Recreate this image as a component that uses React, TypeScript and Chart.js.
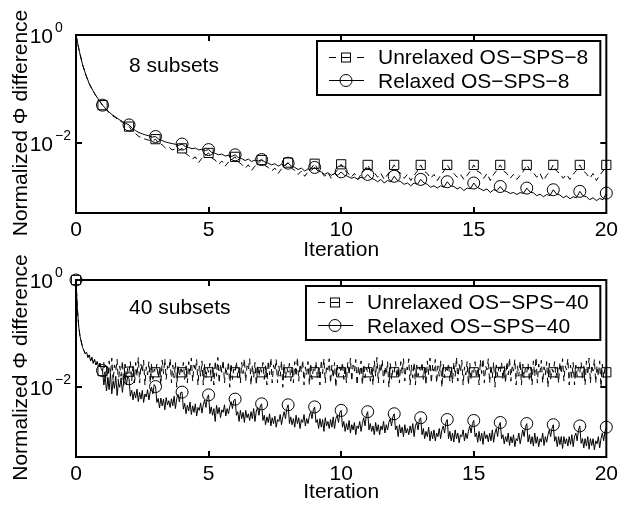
import { useEffect, useRef } from 'react';
import { Chart, registerables } from 'chart.js';
Chart.register(...registerables);

const FONT = "'Liberation Sans', Arial, Helvetica, sans-serif";

// x-axis ticks (iterations)
const xTickStep = 5;
const xMin = 0;
const xMax = 20;
// y-axis (log) ticks
const yMin = 0.0005;
const yMax = 1;
const yTickValues = [1, 0.01];
const yTickExponents = ['0', '\u22122'];

// sample points per iteration in each panel
const perIterTop = 8;
const perIterBottom = 20;

const topLabels = ['Unrelaxed OS\u2212SPS\u22128', 'Relaxed OS\u2212SPS\u22128'];
const bottomLabels = ['Unrelaxed OS\u2212SPS\u221240', 'Relaxed OS\u2212SPS\u221240'];
const topNote = '8 subsets';
const bottomNote = '40 subsets';

// ---- 8 subsets: normalized difference per sub-iteration ----
const topUnrelaxed = [
  1, .5, .28, .18, .125, .095, .075, .061,
  .05, .042, .036, .032, .029, .026, .024, .022,
  .020, .0165, .0148, .0130, .0124, .0116, .0112, .0108,
  .0117, .0098, .0092, .0080, .0083, .0074, .0077, .0072,
  .0079, .0064, .0058, .0050, .0055, .0043, .0052, .0058,
  .0065, .0052, .0048, .0040, .0046, .0037, .0044, .0049,
  .0055, .0044, .0040, .0034, .0039, .0031, .0037, .0042,
  .0048, .0038, .0035, .0030, .0034, .0027, .0033, .0038,
  .0043, .0034, .0031, .0026, .0030, .0024, .0029, .0034,
  .0041, .0032, .0029, .0024, .0028, .0022, .0027, .0032,
  .0040, .0031, .0028, .0023, .0027, .0021, .0026, .0031,
  .0039, .0030, .0028, .0023, .0027, .0021, .0026, .0031,
  .0039, .0030, .0027, .0022, .0026, .0020, .0025, .0030,
  .0039, .0030, .0027, .0022, .0026, .0020, .0025, .0030,
  .0039, .0031, .0027, .0023, .0026, .0021, .0025, .0030,
  .0039, .0030, .0028, .0022, .0027, .0020, .0026, .0031,
  .0039, .0030, .0027, .0022, .0026, .0021, .0025, .0030,
  .0039, .0031, .0028, .0023, .0027, .0020, .0025, .0030,
  .0039, .0030, .0027, .0022, .0026, .0021, .0026, .0031,
  .0039, .0030, .0027, .0022, .0027, .0020, .0025, .0030,
  .0039,
];
const topRelaxed = [
  1, .5, .28, .18, .125, .095, .075, .061,
  .05, .043, .037, .033, .030, .027, .025, .023,
  .0215, .0185, .0168, .0155, .0147, .0140, .0135, .0128,
  .0131, .0116, .0110, .0104, .0100, .0097, .0094, .0090,
  .0095, .0085, .0082, .0078, .0080, .0074, .0076, .0072,
  .0075, .0066, .0064, .0060, .0062, .0057, .0059, .0056,
  .0060, .0053, .0051, .0047, .0050, .0045, .0048, .0046,
  .0049, .0044, .0042, .0039, .0041, .0037, .0040, .0038,
  .0042, .0037, .0035, .0032, .0034, .0030, .0033, .0031,
  .0035, .0030, .0029, .0026, .0028, .0025, .0027, .0025,
  .0029, .0025, .0024, .0022, .0023, .0021, .0023, .0022,
  .0026, .0022, .0021, .0019, .0021, .0018, .0020, .0019,
  .0024, .0020, .0019, .0017, .0018, .0016, .0018, .0017,
  .0021, .0018, .0017, .0015, .0016, .00145, .0016, .0015,
  .0019, .0016, .00155, .0014, .0015, .0013, .00145, .0014,
  .0018, .0015, .0014, .0013, .0014, .0012, .00135, .0013,
  .00155, .0013, .00125, .00115, .0012, .0011, .0012, .00115,
  .00145, .00122, .00118, .00105, .00112, .0010, .0011, .00105,
  .00135, .00112, .00108, .00096, .00104, .00092, .0010, .00096,
  .00126, .00104, .0010, .00088, .00096, .00085, .00093, .00088,
  .00117,
];

// ---- 40 subsets ----
const bottomUnrelaxed = [
  1, .3, .14, .09, .07, .055, .048, .042, .045, .036, .040, .031, .036, .028, .033, .026, .030, .024, .028, .022,
  .0200, .029, .014, .024, .011, .031, .017, .035, .013, .026, .020, .033, .012, .025, .016, .031, .011, .027, .015, .023,
  .0195, .030, .013, .025, .012, .029, .016, .036, .012, .027, .019, .032, .011, .024, .017, .030, .012, .028, .014, .022,
  .0190, .027, .015, .023, .011, .032, .018, .034, .014, .025, .021, .034, .012, .026, .015, .029, .010, .026, .016, .024,
  .0190, .029, .014, .025, .012, .030, .017, .035, .013, .026, .020, .033, .011, .025, .016, .031, .011, .027, .015, .023,
  .0190, .028, .013, .024, .011, .031, .016, .036, .012, .027, .019, .032, .012, .024, .017, .030, .010, .028, .014, .022,
  .0190, .030, .015, .023, .012, .029, .018, .034, .013, .025, .021, .034, .011, .026, .015, .029, .011, .026, .016, .024,
  .0190, .029, .014, .025, .011, .031, .017, .035, .012, .026, .020, .033, .012, .025, .016, .031, .010, .027, .015, .023,
  .0190, .028, .013, .024, .012, .030, .016, .036, .013, .027, .019, .032, .011, .024, .017, .030, .011, .028, .014, .022,
  .0190, .030, .015, .023, .011, .032, .018, .034, .012, .025, .021, .034, .012, .026, .015, .029, .010, .026, .016, .024,
  .0190, .029, .014, .025, .012, .029, .017, .035, .013, .026, .020, .033, .011, .025, .016, .031, .011, .027, .015, .023,
  .0190, .028, .013, .024, .011, .031, .016, .036, .012, .027, .019, .032, .012, .024, .017, .030, .010, .028, .014, .022,
  .0190, .030, .015, .023, .012, .030, .018, .034, .013, .025, .021, .034, .011, .026, .015, .029, .011, .026, .016, .024,
  .0190, .029, .014, .025, .011, .031, .017, .035, .012, .026, .020, .033, .012, .025, .016, .031, .010, .027, .015, .023,
  .0190, .028, .013, .024, .012, .029, .016, .036, .013, .027, .019, .032, .011, .024, .017, .030, .011, .028, .014, .022,
  .0190, .030, .015, .023, .011, .032, .018, .034, .012, .025, .021, .034, .012, .026, .015, .029, .010, .026, .016, .024,
  .0190, .029, .014, .025, .012, .030, .017, .035, .013, .026, .020, .033, .011, .025, .016, .031, .011, .027, .015, .023,
  .0190, .028, .013, .024, .011, .031, .016, .036, .012, .027, .019, .032, .012, .024, .017, .030, .010, .028, .014, .022,
  .0190, .030, .015, .023, .012, .029, .018, .034, .013, .025, .021, .034, .011, .026, .015, .029, .011, .026, .016, .024,
  .0190, .029, .014, .025, .011, .031, .017, .035, .012, .026, .020, .033, .012, .025, .016, .031, .010, .027, .015, .023,
  .019,
];
const bottomRelaxed = [
  1, .3, .14, .09, .07, .055, .048, .042, .045, .036, .040, .031, .036, .028, .033, .026, .030, .024, .028, .022,
  .0205, .011, .016, .0085, .014, .009, .018, .0075, .013, .0095, .016, .007, .012, .010, .015, .008, .013, .017, .011, .016,
  .0144, .0068, .0088, .0058, .0082, .0063, .0092, .0054, .0080, .0060, .0087, .0052, .0075, .0066, .0090, .0058, .0083, .0100, .0075, .0112,
  .0103, .0052, .0062, .0041, .0063, .0045, .0060, .0038, .0064, .0047, .0056, .0042, .0061, .0045, .0068, .0040, .0062, .0074, .0053, .0080,
  .0081, .0039, .0050, .0032, .0046, .0036, .0053, .0031, .0045, .0034, .0049, .0029, .0042, .0037, .0051, .0033, .0047, .0058, .0042, .0064,
  .0072, .0032, .0043, .0030, .0040, .0023, .0046, .0032, .0042, .0027, .0038, .0034, .0047, .0029, .0040, .0032, .0044, .0054, .0040, .0057,
  .0060, .0030, .0035, .0023, .0037, .0026, .0034, .0022, .0037, .0027, .0032, .0024, .0035, .0026, .0040, .0023, .0036, .0042, .0030, .0045,
  .0049, .0024, .0030, .0020, .0028, .0022, .0032, .0019, .0027, .0021, .0029, .0018, .0025, .0023, .0031, .0020, .0028, .0035, .0026, .0040,
  .0047, .0021, .0028, .0020, .0026, .0018, .0030, .0021, .0027, .0017, .0025, .0022, .0031, .0019, .0026, .0021, .0029, .0035, .0026, .0038,
  .0043, .0022, .0025, .0017, .0026, .0018, .0025, .0015, .0027, .0019, .0023, .0017, .0025, .0018, .0028, .0017, .0026, .0030, .0022, .0034,
  .0037, .0018, .0023, .0015, .0021, .0016, .0024, .0014, .0020, .0016, .0022, .0013, .0019, .0017, .0023, .0015, .0021, .0027, .0019, .0030,
  .0035, .0016, .0021, .0015, .0019, .0013, .0022, .0015, .0020, .0013, .0019, .0016, .0023, .0014, .0020, .0016, .0022, .0026, .0019, .0028,
  .0032, .0016, .0019, .0012, .0020, .0014, .0018, .0012, .0020, .0014, .0017, .0013, .0019, .0014, .0021, .0012, .0019, .0022, .0016, .0025,
  .0027, .0013, .0017, .0011, .0015, .0012, .0018, .0010, .0015, .0011, .0016, .0010, .0014, .0012, .0017, .0011, .0016, .0019, .0014, .0022,
  .0025, .0011, .0015, .0010, .0014, .00095, .0016, .0011, .0014, .00092, .0013, .0012, .0016, .0010, .0014, .0011, .0015, .0019, .0014, .0021,
  .0024, .0012, .0014, .00094, .0015, .0010, .0014, .00086, .0015, .0011, .0013, .00096, .0014, .0010, .0016, .00094, .0014, .0017, .0012, .0019,
  .0022, .0011, .0013, .00088, .0012, .00096, .0014, .00082, .0012, .00092, .0013, .00078, .0011, .0010, .0014, .00088, .0012, .0016, .0012, .0018,
  .0021, .00095, .0013, .00088, .0012, .00080, .0014, .00090, .0012, .00078, .0011, .00095, .0014, .00082, .0012, .00094, .0013, .0016, .0012, .0017,
  .0020, .00098, .0012, .00078, .0012, .00085, .0012, .00072, .0012, .00088, .0011, .00080, .0012, .00086, .0013, .00078, .0012, .0014, .0010, .0016,
  .0019, .00090, .0011, .00074, .0011, .00080, .0012, .00070, .0011, .00082, .0011, .00068, .0010, .00088, .0012, .00074, .0011, .0014, .0010, .0015,
  .0018,
];

type PanelCfg = {
  unrelaxed: number[];
  relaxed: number[];
  per: number;
  labels: string[];
  note: string;
  noteAt: [number, number];
  padTop: number;
  xHeight: number;
  titlePadBottom: number;
  markerAtZero: boolean;
};

function decorPlugin(cfg: PanelCfg) {
  return {
    id: 'decor',
    afterDraw(chart: any) {
      const { ctx, chartArea: a, scales } = chart;
      const xs = scales.x;
      const ys = scales.y;
      ctx.save();
      ctx.strokeStyle = '#000';
      ctx.fillStyle = '#000';
      ctx.lineWidth = 2;
      ctx.setLineDash([]);
      // inward ticks
      const tl = 6;
      ctx.beginPath();
      for (let v = xMin + xTickStep; v < xMax; v += xTickStep) {
        const px = Math.round(xs.getPixelForValue(v));
        ctx.moveTo(px, a.bottom);
        ctx.lineTo(px, a.bottom - tl);
        ctx.moveTo(px, a.top);
        ctx.lineTo(px, a.top + tl);
      }
      for (const v of yTickValues) {
        const py = Math.round(ys.getPixelForValue(v));
        ctx.moveTo(a.left, py);
        ctx.lineTo(a.left + tl, py);
        ctx.moveTo(a.right, py);
        ctx.lineTo(a.right - tl, py);
      }
      ctx.stroke();
      // axes box
      ctx.strokeRect(a.left, a.top, a.right - a.left, a.bottom - a.top);

      // y tick labels 10^n
      yTickValues.forEach((v, i) => {
        const py = ys.getPixelForValue(v);
        ctx.font = `21px ${FONT}`;
        ctx.textAlign = 'right';
        ctx.textBaseline = 'alphabetic';
        ctx.fillText('10', a.left - 23, py + 8);
        ctx.font = `14px ${FONT}`;
        ctx.textAlign = 'left';
        ctx.fillText(yTickExponents[i], a.left - 21, py - 3);
      });

      // y title
      ctx.save();
      ctx.font = `21px ${FONT}`;
      ctx.translate(27, (a.top + a.bottom) / 2 - 1);
      ctx.rotate(-Math.PI / 2);
      ctx.textAlign = 'center';
      ctx.textBaseline = 'alphabetic';
      ctx.fillText('Normalized \u03A6 difference', 0, 0);
      ctx.restore();

      // note text
      ctx.font = `21px ${FONT}`;
      ctx.textAlign = 'left';
      ctx.textBaseline = 'alphabetic';
      ctx.fillText(cfg.note, xs.getPixelForValue(cfg.noteAt[0]), ys.getPixelForValue(cfg.noteAt[1]));

      // legend
      const w = Math.max(...cfg.labels.map((l) => ctx.measureText(l).width));
      const right = a.right - 6;
      const left = Math.round(right - (61 + w + 12));
      const top = a.top + 6;
      const h = 54;
      ctx.fillStyle = '#fff';
      ctx.fillRect(left, top, right - left, h);
      ctx.fillStyle = '#000';
      ctx.lineWidth = 2;
      ctx.strokeRect(left, top, right - left, h);
      const b1 = top + 23;
      const b2 = top + 46.8;
      const c1 = Math.round(b1 - 7.5) + 0.5;
      const c2 = Math.round(b2 - 7.5) + 0.5;
      ctx.fillText(cfg.labels[0], left + 61, b1);
      ctx.fillText(cfg.labels[1], left + 61, b2);
      ctx.lineWidth = 1;
      ctx.beginPath();
      ctx.moveTo(left + 12, c1); ctx.lineTo(left + 19, c1);
      ctx.moveTo(left + 24.5, c1); ctx.lineTo(left + 33.5, c1);
      ctx.moveTo(left + 40, c1); ctx.lineTo(left + 47, c1);
      ctx.stroke();
      ctx.strokeRect(left + 24.5, c1 - 4.5, 9, 9);
      ctx.beginPath();
      ctx.moveTo(left + 12, c2); ctx.lineTo(left + 47, c2);
      ctx.stroke();
      ctx.beginPath();
      ctx.arc(left + 29, c2, 6, 0, Math.PI * 2);
      ctx.stroke();
      ctx.restore();
    },
  };
}

function makeConfig(cfg: PanelCfg): any {
  const toXY = (vals: number[]) => vals.map((v, i) => ({ x: i / cfg.per, y: v }));
  const markerR = (r: number) => (c: any) =>
    c.dataIndex % cfg.per === 0 && (cfg.markerAtZero || c.dataIndex > 0) ? r : 0;
  return {
    type: 'line',
    data: {
      datasets: [
        {
          label: cfg.labels[0],
          data: toXY(cfg.unrelaxed),
          borderColor: '#000',
          borderWidth: 1,
          borderDash: [6, 4],
          tension: 0,
          pointStyle: 'rect',
          pointRadius: markerR(6.5),
          pointBorderColor: '#000',
          pointBorderWidth: 1,
          pointBackgroundColor: 'rgba(0,0,0,0)',
          clip: false,
        },
        {
          label: cfg.labels[1],
          data: toXY(cfg.relaxed),
          borderColor: '#000',
          borderWidth: 1,
          tension: 0,
          pointStyle: 'circle',
          pointRadius: markerR(6),
          pointBorderColor: '#000',
          pointBorderWidth: 1,
          pointBackgroundColor: 'rgba(0,0,0,0)',
          clip: false,
        },
      ],
    },
    options: {
      responsive: false,
      animation: false,
      devicePixelRatio: 1,
      layout: { padding: { left: 0, right: 13, top: cfg.padTop, bottom: 0 } },
      plugins: { legend: { display: false }, tooltip: { enabled: false } },
      events: [],
      scales: {
        x: {
          type: 'linear',
          min: xMin,
          max: xMax,
          grid: { display: false, drawTicks: false },
          border: { display: false },
          ticks: { stepSize: xTickStep, color: '#000', font: { family: FONT, size: 21 }, padding: 5, maxRotation: 0 },
          title: {
            display: true,
            text: 'Iteration',
            color: '#000',
            font: { family: FONT, size: 21, lineHeight: 1.2 },
            padding: { top: 0, bottom: cfg.titlePadBottom },
          },
          afterFit: (s: any) => { s.height = cfg.xHeight; },
        },
        y: {
          type: 'logarithmic',
          min: yMin,
          max: yMax,
          grid: { display: false, drawTicks: false },
          border: { display: false },
          ticks: { display: false },
          afterFit: (s: any) => { s.width = 76; },
        },
      },
    },
    plugins: [decorPlugin(cfg)],
  };
}

const topCfg: PanelCfg = {
  unrelaxed: topUnrelaxed,
  relaxed: topRelaxed,
  per: perIterTop,
  labels: topLabels,
  note: topNote,
  noteAt: [2, 0.21],
  padTop: 35,
  xHeight: 50,
  titlePadBottom: 0,
  markerAtZero: false,
};
const bottomCfg: PanelCfg = {
  unrelaxed: bottomUnrelaxed,
  relaxed: bottomRelaxed,
  per: perIterBottom,
  labels: bottomLabels,
  note: bottomNote,
  noteAt: [2, 0.23],
  padTop: 35,
  xHeight: 49,
  titlePadBottom: 1,
  markerAtZero: true,
};

export default function App() {
  const topRef = useRef<HTMLCanvasElement>(null);
  const botRef = useRef<HTMLCanvasElement>(null);
  useEffect(() => {
    const c1 = new Chart(topRef.current!, makeConfig(topCfg));
    const c2 = new Chart(botRef.current!, makeConfig(bottomCfg));
    return () => { c1.destroy(); c2.destroy(); };
  }, []);
  return (
    <div style={{ position: 'fixed', left: 0, top: 0, width: 623, height: 506, background: '#fff' }}>
      <canvas ref={topRef} width={623} height={263} style={{ position: 'absolute', left: 0, top: 0 }} />
      <canvas ref={botRef} width={623} height={261} style={{ position: 'absolute', left: 0, top: 245 }} />
    </div>
  );
}
